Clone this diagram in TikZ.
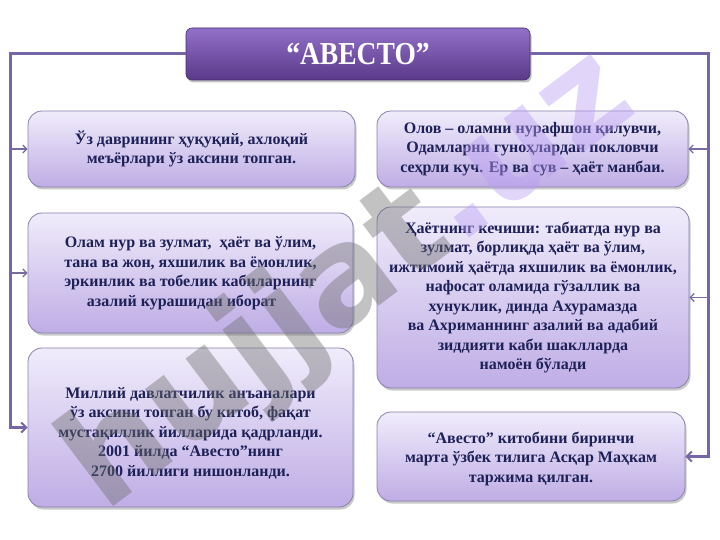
\documentclass[tikz,border=0pt]{standalone}
\usepackage{fontspec}
\setmainfont{Liberation Serif}
\newfontfamily\wmfont{DejaVu Sans}
\usetikzlibrary{arrows.meta,shadows}

\definecolor{frameC}{HTML}{7666A8}
\definecolor{txtC}{HTML}{1E2158}
\definecolor{boxTop}{HTML}{F0ECFB}
\definecolor{boxBot}{HTML}{BFADE5}
\definecolor{boxLine}{HTML}{8B80AE}
\definecolor{titTop}{HTML}{9270C8}
\definecolor{titBot}{HTML}{5A3A8A}
\definecolor{wmGrey}{HTML}{6E6E6E}
\definecolor{wmLav}{HTML}{B99DF3}

\tikzset{
  infobox/.style={rectangle, rounded corners=14pt, draw=boxLine, line width=0.8pt,
    top color=boxTop, bottom color=boxBot,
    drop shadow={shadow xshift=1.5pt, shadow yshift=-2.5pt, opacity=0.35, fill=black!60},
    text=txtC, font=\bfseries\fontsize{16pt}{19.5pt}\selectfont, align=center, inner sep=0pt},
  titlebox/.style={rectangle, rounded corners=6pt, draw=titBot!80!black, line width=0.6pt,
    top color=titTop, bottom color=titBot,
    drop shadow={shadow xshift=1.5pt, shadow yshift=-2.5pt, opacity=0.4, fill=black!60},
    text=white, font=\bfseries\fontsize{32pt}{34pt}\selectfont, inner sep=0pt},
  frameline/.style={draw=frameC, line width=3pt, line join=miter},
  bigtip/.style={-{Straight Barb[length=5pt,width=10pt,line width=2pt]}},
  sidearrow/.style={draw=frameC!80!gray, line width=1.6pt, -{Straight Barb[length=4pt,width=8pt,line width=1.2pt]}},
  watermark/.style={rotate=37, text opacity=0.42, font=\wmfont\bfseries\fontsize{136pt}{136pt}\selectfont, inner sep=0pt}
}

\begin{document}
\begin{tikzpicture}[x=1pt,y=-1pt]
\useasboundingbox (0,0) rectangle (720,540);
\fill[white] (0,0) rectangle (720,540);

\coordinate (lx) at (10,0);
\coordinate (rx) at (708,0);

\node[titlebox, minimum width=344pt, minimum height=52pt] (t) at (358,54) {\scalebox{0.86}[1]{“АВЕСТО”}};

\node[infobox, minimum width=327pt, minimum height=76pt] (b1) at (191.5,149)
  {Ўз даврининг ҳуқуқий, ахлоқий\\меъёрлари ўз аксини топган.};
\node[infobox, minimum width=311pt, minimum height=76pt] (b2) at (532.5,149)
  {Олов – оламни нурафшон қилувчи,\\Одамларни гуноҳлардан покловчи\\сеҳрли куч. Ер ва сув – ҳаёт манбаи.};
\node[infobox, minimum width=325pt, minimum height=120pt] (b3) at (190.5,273)
  {Олам нур ва зулмат, \ ҳаёт ва ўлим,\\тана ва жон, яхшилик ва ёмонлик,\\эркинлик ва тобелик кабиларнинг\\азалий курашидан иборат\hspace*{18pt}};
\node[infobox, minimum width=312pt, minimum height=181pt] (b4) at (533,297.5)
  {Ҳаётнинг кечиши: табиатда нур ва\\зулмат, борлиқда ҳаёт ва ўлим,\\ижтимоий ҳаётда яхшилик ва ёмонлик,\\нафосат оламида гўзаллик ва\\хунуклик, динда Ахурамазда\\ва Ахриманнинг азалий ва адабий\\зиддияти каби шаклларда\\намоён бўлади};
\node[infobox, minimum width=325pt, minimum height=159pt] (b5) at (190.5,427.5)
  {\rule{0pt}{22pt}Миллий давлатчилик анъаналари\\ўз аксини топган бу китоб, фақат\\мустақиллик йилларида қадрланди.\\2001 йилда “Авесто”нинг\\2700 йиллиги нишонланди.};
\node[infobox, minimum width=308pt, minimum height=89pt] (b6) at (531,456.5)
  {\rule{0pt}{16pt}“Авесто” китобини биринчи\\марта ўзбек тилига Асқар Маҳкам\\таржима қилган.};

% frame lines
\draw[frameline, bigtip] (t.west) -| (b5.west -| lx) -- (b5.west);
\draw[frameline, bigtip] (t.east) -| (b6.east -| rx) -- (b6.east);

% side arrows
\draw[sidearrow] (b1.west -| lx) -- (b1.west);
\draw[sidearrow] (b3.west -| lx) -- (b3.west);
\draw[sidearrow] (b2.east -| rx) -- (b2.east);
\draw[sidearrow] (b4.east -| rx) -- (b4.east);

% watermark
\node[watermark] (wm) at (350,282) {\textcolor{wmGrey}{hujjat}\textcolor{wmLav}{.uz}};
\end{tikzpicture}
\end{document}
